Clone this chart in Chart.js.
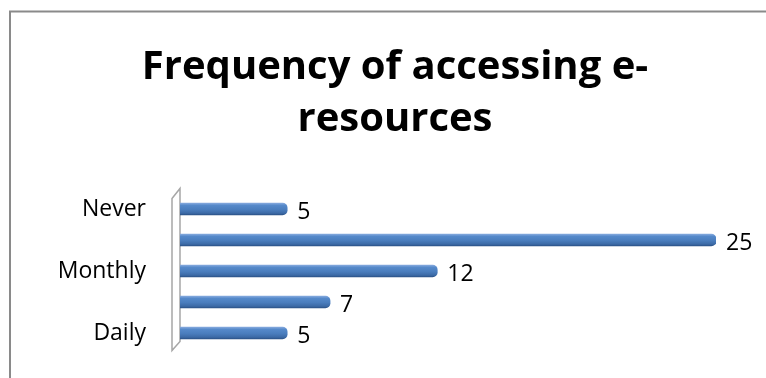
<!DOCTYPE html>
<html>
<head>
<meta charset="utf-8">
<script src="https://cdn.jsdelivr.net/npm/chart.js@4.4.1/dist/chart.umd.min.js"></script>
<style>
  html, body { margin: 0; padding: 0; background: #fff; overflow: hidden; }
  #wrap { position: absolute; left: 0; top: 0; width: 766px; height: 378px; }
</style>
</head>
<body>
<div id="wrap"><canvas id="c" width="766" height="378"></canvas></div>
<script>
// Categories in Excel order (first category at the bottom)
const categories = ['Daily', 'Weekly', 'Monthly', 'Occasionally', 'Never'];
const counts = [5, 7, 12, 25, 5];
const titleLines = ['Frequency of accessing e-', 'resources'];
const axisMax = 25;

const frame = {
  id: 'frame',
  beforeDraw(chart) {
    const c = chart.ctx;
    c.save();
    c.strokeStyle = '#8a8a8a';
    c.lineWidth = 2;
    c.beginPath();
    c.moveTo(10, chart.height + 2);
    c.lineTo(10, 11.5);
    c.lineTo(chart.width + 2, 11.5);
    c.stroke();
    c.restore();
  }
};

const wall = {
  id: 'wall',
  beforeDatasetsDraw(chart) {
    const c = chart.ctx;
    const x0 = chart.scales.x.getPixelForValue(0);
    const top = chart.chartArea.top, bottom = chart.chartArea.bottom;
    c.save();
    c.strokeStyle = '#a6a6a6';
    c.fillStyle = '#ffffff';
    c.lineWidth = 1.5;
    c.beginPath();
    c.moveTo(x0 - 8, top + 5);
    c.lineTo(x0, top - 5);
    c.lineTo(x0, bottom - 7);
    c.lineTo(x0 - 8, bottom + 2);
    c.closePath();
    c.fill();
    c.stroke();
    c.restore();
  }
};

const valueLabels = {
  id: 'valueLabels',
  afterDatasetsDraw(chart) {
    const c = chart.ctx;
    const meta = chart.getDatasetMeta(0);
    c.save();
    c.fillStyle = '#000';
    c.font = '23px "Open Sans"';
    c.textAlign = 'left';
    c.textBaseline = 'middle';
    meta.data.forEach((el, i) => {
      c.fillText(String(chart.data.datasets[0].data[i]), el.x + 10, el.y + 3);
    });
    c.restore();
  }
};

function barGradient(ctx) {
  const chart = ctx.chart;
  const ys = chart.scales && chart.scales.y;
  if (!ys || !chart.chartArea) return '#4f81bd';
  const y = ys.getPixelForValue(ctx.dataIndex);
  const g = chart.ctx.createLinearGradient(0, y - 6, 0, y + 6);
  g.addColorStop(0, '#86aade');
  g.addColorStop(0.2, '#5589ca');
  g.addColorStop(0.55, '#4a7dbd');
  g.addColorStop(0.85, '#3c6aa6');
  g.addColorStop(1, '#2b5287');
  return g;
}

new Chart(document.getElementById('c'), {
  type: 'bar',
  data: {
    labels: categories,
    datasets: [{
      data: counts,
      backgroundColor: barGradient,
      borderWidth: 0,
      borderSkipped: 'start',
      borderRadius: { topRight: 5, bottomRight: 5, topLeft: 0, bottomLeft: 0 },
      barThickness: 12
    }]
  },
  options: {
    indexAxis: 'y',
    responsive: false,
    animation: false,
    devicePixelRatio: 1,
    layout: { padding: { left: 40, right: 16, top: 0, bottom: 29.5 } },
    plugins: {
      legend: { display: false },
      tooltip: { enabled: false },
      title: {
        display: true,
        text: titleLines,
        color: '#000',
        font: { family: '"Open Sans"', size: 40, weight: 'bold', lineHeight: 1.3 },
        padding: { top: 41.5, bottom: 48 }
      }
    },
    scales: {
      x: { display: false, min: 0, max: axisMax },
      y: {
        reverse: true,
        afterFit(scale) { scale.width = 140; scale.paddingTop = 0; scale.paddingBottom = 0; },
        grid: { display: false, drawTicks: false },
        border: { display: false },
        ticks: {
          autoSkip: false,
          padding: 34,
          color: '#000',
          font: { family: '"Open Sans"', size: 23 },
          callback(v, i) { return i % 2 === 0 ? categories[i] : ''; }
        }
      },
      yR: {
        type: 'category',
        position: 'right',
        reverse: true,
        afterFit(scale) { scale.width = 34; scale.paddingTop = 0; scale.paddingBottom = 0; },
        grid: { display: false, drawTicks: false },
        border: { display: false },
        ticks: { display: false }
      }
    }
  },
  plugins: [frame, wall, valueLabels]
});
</script>
</body>
</html>
